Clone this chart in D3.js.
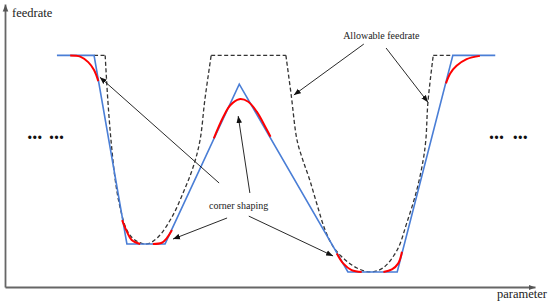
<!DOCTYPE html>
<html>
<head>
<meta charset="utf-8">
<script src="https://cdn.jsdelivr.net/npm/d3@7"></script>
<style>
  body { margin: 0; background: #fff; }
</style>
</head>
<body>
<div id="chart"></div>
<script>
// parameter runs 0-100, feedrate 0-122 (100 = max feed)
var planned = [[9.8,100],[16.8,100],[23.0,18.6],[30.2,18.6],[44.2,87.6],[64.7,6.5],[74.0,6.5],[84.5,100],[92.5,100]]

// allowable feedrate: flat parts at 100 and the two valleys
var allowableFlats = [[16.8,18.9],[38.9,53.0],[80.8,84.5]]
var allowableLeft = [[18.9,100],[19.4,80.7],[20.0,63.4],[20.8,46.2],[21.7,34.5],[23.0,24.6],[24.5,20.3],[26.8,18.6],
    [28.9,21.6],[31.5,30.2],[33.6,40.6],[35.5,51.8],[36.8,63.4],[37.7,80.7],[38.9,100]]
var allowableRight = [[53.0,100],[54.0,82.9],[55.1,63.4],[56.2,54.8],[57.5,46.2],[58.9,35.4],[60.4,24.6],[62.1,16.8],
    [64.2,11.7],[66.4,8.2],[68.9,6.5],[71.3,8.2],[74.0,16.0],[75.8,27.6],[77.7,41.9],[78.9,54.8],[79.4,63.4],[79.8,79.8],[80.8,100]]

var cornerShaping = [
    [[12.3,100],[14.2,99.5],[15.7,97.1],[16.8,93.7],[17.6,88.9]],
    [[22.1,28.9],[23.0,23.9],[23.9,20.3],[25.5,18.6]],
    [[27.9,18.6],[29.6,19.1],[30.5,21.0],[31.5,24.6]],
    [[39.4,64.2],[41.2,73.5],[42.5,78.5],[44.2,81.1],[45.9,80.0],[47.5,75.7],[49.1,69.2],[50.1,64.9]],
    [[62.6,14.5],[63.8,10.2],[65.4,7.3],[67.3,6.5]],
    [[71.4,6.5],[73.0,7.6],[74.2,10.2],[74.9,15.2]],
    [[83.2,87.9],[84.0,92.2],[85.2,95.5],[87.1,98.4],[89.6,99.8]]
]

// annotation arrows [x1, y1, x2, y2]
var arrows = [[67.7,104.9,54.5,82.9],[71.9,103.2,79.8,79.8],
    [40.4,44.9,17.9,90.6],[46.2,40.6,44.0,73.8],[41.9,29.8,31.7,20.7],[46.0,30.6,61.9,13.4]]
var labels = [["Allowable feedrate",63.8,107.0],["corner shaping",38.5,33.7]]
var dots = [4.2, 8.3, 91.3, 95.8]
var dotsLevel = 63.9

var width = 550, height = 305
var serif = "'Liberation Serif', 'Times New Roman', Times, 'DejaVu Serif', serif"

var svg = d3.select("#chart")
    .append("svg")
    .attr("width", width)
    .attr("height", height)

var x = d3.scaleLinear().domain([0, 100]).range([5, 535])
var y = d3.scaleLinear().domain([0, 122.2]).range([287, 4])

var defs = svg.append("defs")
defs.append("marker")
    .attr("id", "axisArrow")
    .attr("viewBox", "0 0 10 10")
    .attr("refX", 10).attr("refY", 5)
    .attr("markerWidth", 7).attr("markerHeight", 7)
    .attr("markerUnits", "userSpaceOnUse")
    .attr("orient", "auto")
    .append("path").attr("d", "M0,1L10,5L0,9z").attr("fill", "#555")
defs.append("marker")
    .attr("id", "noteArrow")
    .attr("viewBox", "0 0 10 10")
    .attr("refX", 10).attr("refY", 5)
    .attr("markerWidth", 7).attr("markerHeight", 7)
    .attr("markerUnits", "userSpaceOnUse")
    .attr("orient", "auto")
    .append("path").attr("d", "M0,1L10,5L0,9z").attr("fill", "#111")

// axes, no ticks
svg.append("g")
    .attr("transform", "translate(0," + y(0) + ")")
    .call(d3.axisBottom(x).tickValues([]).tickSizeOuter(0))
svg.append("g")
    .attr("transform", "translate(" + x(0) + ",0)")
    .call(d3.axisLeft(y).tickValues([]).tickSizeOuter(0))
svg.selectAll(".domain")
    .attr("stroke", "#666")
    .attr("stroke-width", 1.8)
    .attr("marker-end", "url(#axisArrow)")

svg.append("text")
    .attr("x", 12).attr("y", 17)
    .attr("font-family", serif)
    .attr("font-size", 12.5)
    .attr("fill", "#222")
    .text("feedrate")
svg.append("text")
    .attr("x", 497).attr("y", 298)
    .attr("font-family", serif)
    .attr("font-size", 12.5)
    .attr("fill", "#222")
    .text("parameter")

var line = d3.line().x(d => x(d[0])).y(d => y(d[1]))
var smooth = d3.line().x(d => x(d[0])).y(d => y(d[1])).curve(d3.curveCatmullRom.alpha(0.5))

// allowable feedrate (dashed)
var allowable = svg.append("g")
    .attr("fill", "none")
    .attr("stroke", "#333")
    .attr("stroke-width", 1.3)
    .attr("stroke-dasharray", "4,2.5")
allowable.selectAll("line")
    .data(allowableFlats)
    .enter()
    .append("line")
    .attr("x1", d => x(d[0]))
    .attr("x2", d => x(d[1]))
    .attr("y1", y(100))
    .attr("y2", y(100))
allowable.selectAll("path")
    .data([allowableLeft, allowableRight])
    .enter()
    .append("path")
    .attr("d", smooth)

// planned feedrate
svg.append("path")
    .datum(planned)
    .attr("fill", "none")
    .attr("stroke", "#4a7ed6")
    .attr("stroke-width", 1.6)
    .attr("d", line)

// corner shaping
svg.selectAll("corners")
    .data(cornerShaping)
    .enter()
    .append("path")
    .attr("fill", "none")
    .attr("stroke", "#ff0000")
    .attr("stroke-width", 2)
    .attr("d", smooth)

// annotations
svg.selectAll("notes")
    .data(arrows)
    .enter()
    .append("line")
    .attr("x1", d => x(d[0]))
    .attr("y1", d => y(d[1]))
    .attr("x2", d => x(d[2]))
    .attr("y2", d => y(d[3]))
    .attr("stroke", "#111")
    .attr("stroke-width", 0.9)
    .attr("marker-end", "url(#noteArrow)")

svg.selectAll("labels")
    .data(labels)
    .enter()
    .append("text")
    .attr("x", d => x(d[1]))
    .attr("y", d => y(d[2]))
    .attr("font-family", serif)
    .attr("font-size", 10)
    .attr("fill", "#222")
    .text(d => d[0])

svg.selectAll("dots")
    .data(dots)
    .enter()
    .append("text")
    .attr("x", d => x(d))
    .attr("y", y(dotsLevel))
    .attr("font-family", serif)
    .attr("font-size", 20)
    .attr("font-weight", "bold")
    .attr("fill", "#111")
    .text("...")
</script>
</body>
</html>
